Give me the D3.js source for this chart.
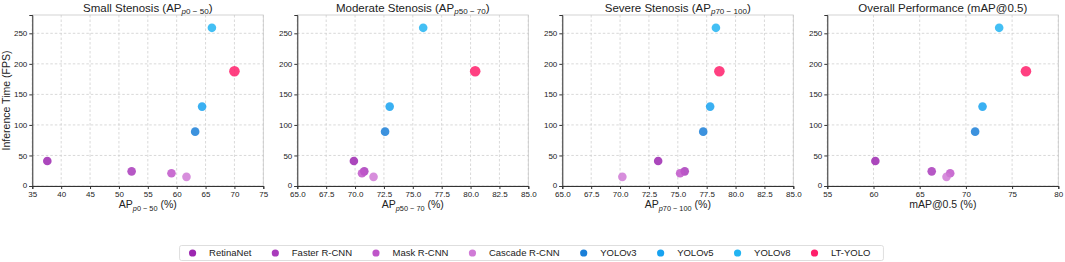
<!DOCTYPE html>
<html>
<head>
<meta charset="utf-8">
<script src="https://cdn.jsdelivr.net/npm/d3@7"></script>
<style>
  body { margin: 0; background: #fff; }
  text { font-family: "Liberation Sans", Arial, sans-serif; fill: #222; }
</style>
</head>
<body>
<div id="chart"></div>
<script>
// data
const models = ["RetinaNet", "Faster R-CNN", "Mask R-CNN", "Cascade R-CNN", "YOLOv3", "YOLOv5", "YOLOv8", "LT-YOLO"];
const colors = ["#9c27b0", "#a93bbb", "#bf55c9", "#d07ad6", "#1a7fd8", "#17a2f0", "#22b4f2", "#ff1f6b"];
const fps = [41, 24, 21, 15, 89, 130, 259, 188];
const apSmall = [37.6, 52.2, 59.1, 61.7, 63.2, 64.4, 66.1, 70.0];
const apModerate = [69.9, 70.8, 70.6, 71.6, 72.6, 73.0, 75.9, 80.4];
const apSevere = [73.3, 75.6, 75.2, 70.2, 77.2, 77.8, 78.3, 78.6];
const mapOverall = [60.2, 66.3, 68.3, 67.9, 71.0, 71.8, 73.6, 76.5];
const yTicks = [0, 50, 100, 150, 200, 250];

const panels = [
  { title: ["Small Stenosis (AP", "p0 − 50", ")"], xlabel: ["AP", "p0 − 50", " (%)"], values: apSmall,
    domain: [35, 75], ticks: d3.range(35, 76, 5), fmt: d3.format("d") },
  { title: ["Moderate Stenosis (AP", "p50 − 70", ")"], xlabel: ["AP", "p50 − 70", " (%)"], values: apModerate,
    domain: [65, 85], ticks: d3.range(65, 85.1, 2.5), fmt: d3.format(".1f") },
  { title: ["Severe Stenosis (AP", "p70 − 100", ")"], xlabel: ["AP", "p70 − 100", " (%)"], values: apSevere,
    domain: [65, 85], ticks: d3.range(65, 85.1, 2.5), fmt: d3.format(".1f") },
  { title: ["Overall Performance (mAP@0.5)", "", ""], xlabel: ["mAP@0.5 (%)", "", ""], values: mapOverall,
    domain: [55, 80], ticks: d3.range(55, 81, 5), fmt: d3.format("d") }
];

const W = 1065, H = 262;
const PW = 231, TOP = 15, BOTTOM = 186;
const lefts = [32.3, 297.3, 562.3, 827.3];

const svg = d3.select("#chart").append("svg")
  .attr("width", W).attr("height", H);

const y = d3.scaleLinear().domain([0, 280]).range([BOTTOM, TOP]);

// text with a math-style subscript (italic p)
function subText(sel, parts, size) {
  sel.append("tspan").text(parts[0]);
  if (parts[1]) {
    const sub = sel.append("tspan").attr("font-size", size * 0.7).attr("dy", size * 0.25);
    sub.append("tspan").attr("font-style", "italic").text(parts[1][0]);
    sub.append("tspan").text(parts[1].slice(1));
    sel.append("tspan").attr("dy", -size * 0.25).text(parts[2]);
  }
}

panels.forEach((p, i) => {
  const g = svg.append("g").attr("transform", `translate(${lefts[i]},0)`);
  const x = d3.scaleLinear().domain(p.domain).range([0, PW]);

  // grid
  g.append("g").selectAll("line").data(p.ticks).join("line")
    .attr("x1", d => x(d)).attr("x2", d => x(d))
    .attr("y1", TOP).attr("y2", BOTTOM)
    .attr("stroke", "#cfcfcf").attr("stroke-width", 0.8).attr("stroke-dasharray", "2.5,2");
  g.append("g").selectAll("line").data(yTicks).join("line")
    .attr("x1", 0).attr("x2", PW)
    .attr("y1", d => y(d)).attr("y2", d => y(d))
    .attr("stroke", "#cfcfcf").attr("stroke-width", 0.8).attr("stroke-dasharray", "2.5,2");

  // frame
  g.append("rect").attr("x", 0).attr("y", TOP).attr("width", PW).attr("height", BOTTOM - TOP)
    .attr("fill", "none").attr("stroke", "#c8c8c8").attr("stroke-width", 0.8);

  // axes
  const xa = g.append("g").attr("transform", `translate(0,${BOTTOM})`)
    .call(d3.axisBottom(x).tickValues(p.ticks).tickFormat(p.fmt).tickSize(3).tickPadding(2));
  const ya = g.append("g")
    .call(d3.axisLeft(y).tickValues(yTicks).tickSize(3).tickPadding(2));
  [xa, ya].forEach(a => {
    a.select(".domain").attr("stroke", "#333").attr("stroke-width", 1);
    a.selectAll(".tick line").attr("stroke", "#333");
    a.selectAll("text").attr("font-size", 8).attr("font-family", "Liberation Sans, Arial, sans-serif").attr("fill", "#333");
  });
  // keep the bottom "0" clear of the x tick labels
  ya.selectAll(".tick text").filter(d => d === 0).attr("dy", "0.2em");

  // points
  g.append("g").selectAll("circle").data(models).join("circle")
    .attr("cx", (m, k) => x(p.values[k]))
    .attr("cy", (m, k) => y(fps[k]))
    .attr("r", (m, k) => m === "LT-YOLO" ? 5.3 : 4.3)
    .attr("fill", (m, k) => colors[k])
    .attr("fill-opacity", 0.85);

  // title
  subText(g.append("text").attr("x", PW / 2).attr("y", 11.5)
    .attr("text-anchor", "middle").attr("font-size", 11.5), p.title, 11.5);

  // x label
  subText(g.append("text").attr("x", PW / 2).attr("y", 208)
    .attr("text-anchor", "middle").attr("font-size", 10.5), p.xlabel, 10.5);
});

// y label
svg.append("text")
  .attr("transform", `translate(10,${(TOP + BOTTOM) / 2}) rotate(-90)`)
  .attr("text-anchor", "middle").attr("font-size", 10.5)
  .text("Inference Time (FPS)");

// legend
const leg = svg.append("g");
const items = leg.selectAll("g").data(models).join("g");
items.append("circle").attr("r", 3.6).attr("fill", (m, k) => colors[k]);
items.append("text").attr("x", 16.5).attr("y", 3.4).attr("font-size", 9.5).text(m => m);
const GAP = 24;
let cx = 0;
items.each(function () {
  d3.select(this).attr("transform", `translate(${cx},0)`);
  cx += 16.5 + d3.select(this).select("text").node().getComputedTextLength() + GAP;
});
const legW = cx - GAP;
const legX0 = 531.5 - legW / 2;
leg.attr("transform", `translate(${legX0},253)`);
leg.insert("rect", ":first-child")
  .attr("x", -13).attr("y", -7.5).attr("width", legW + 26).attr("height", 15)
  .attr("rx", 2).attr("fill", "#fff").attr("stroke", "#d6d6d6").attr("stroke-width", 0.8);
</script>
</body>
</html>
